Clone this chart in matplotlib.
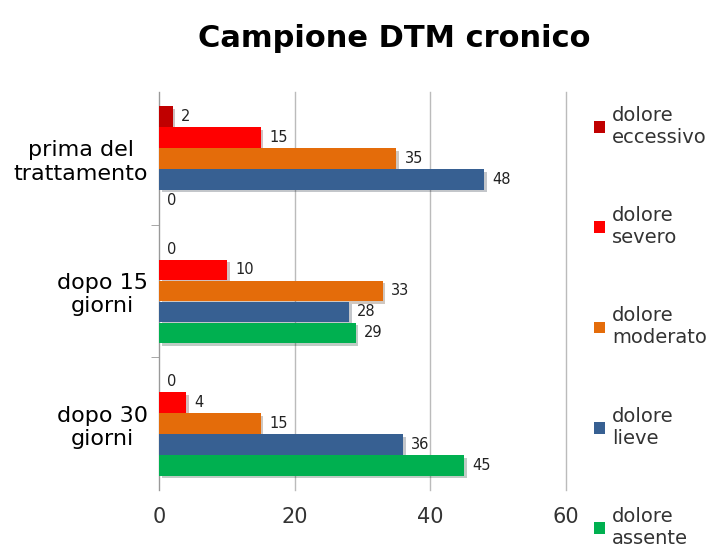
import numpy as np
import matplotlib.pyplot as plt
import matplotlib.patheffects as pe

categories = ['prima del\ntrattamento', 'dopo 15\ngiorni', 'dopo 30\ngiorni']
series = ['dolore\neccessivo', 'dolore\nsevero', 'dolore\nmoderato', 'dolore\nlieve', 'dolore\nassente']
eccessivo = [2, 0, 0]
severo = [15, 10, 4]
moderato = [35, 33, 15]
lieve = [48, 28, 36]
assente = [0, 29, 45]
colors = ['#C00000', '#FF0000', '#E46C0A', '#376092', '#00B050']

values = [eccessivo, severo, moderato, lieve, assente]
y = np.arange(len(categories))
h = 0.155

fig = plt.figure(figsize=(7.16, 5.51), dpi=100)
ax = fig.add_axes([0.222, 0.111, 0.568, 0.722])

all_bars = []
for i, (vals, name, c) in enumerate(zip(values, series, colors)):
    bars = ax.barh(y + (i - 2) * 0.158, vals, h, color=c, label=name, zorder=3)
    all_bars.append(bars)
    ax.bar_label(bars, padding=6, fontsize=10.5, color='#222222')

ax.set_xlim(0, 60)
ax.set_ylim(2.5, -0.5)
ax.set_xticks([0, 20, 40, 60])
ax.tick_params(axis='x', length=0, pad=12, labelsize=15, labelcolor='#333333')
ax.set_yticks(y)
ax.set_yticklabels(categories, fontsize=16, multialignment='center')
ax.tick_params(axis='y', which='major', length=0, pad=8)
ax.set_yticks([0.5, 1.5], minor=True)
ax.tick_params(axis='y', which='minor', length=6, color='#999999')

ax.xaxis.grid(True, color='#BBBBBB', linewidth=1)
for line in ax.get_xgridlines():
    line.set_clip_on(False)
ax.set_axisbelow(True)
for s in ['top', 'right', 'bottom']:
    ax.spines[s].set_visible(False)
ax.spines['left'].set_color('#999999')

fig.text(0.55, 0.93, 'Campione DTM cronico', ha='center', va='center',
         fontsize=22, fontweight='bold')

fig.legend(loc='upper left', bbox_to_anchor=(0.805, 0.84), frameon=False,
           fontsize=14, labelspacing=3.05, handlelength=0.55, handleheight=0.55,
           handletextpad=0.4, labelcolor='#333333')

# soft shadow under the bars (after the legend so the keys stay flat)
shadow = [pe.SimplePatchShadow(offset=(2, -2), alpha=0.25), pe.Normal()]
for bars in all_bars:
    for b in bars:
        b.set_path_effects(shadow)

fig.savefig('out.png', dpi=100)
